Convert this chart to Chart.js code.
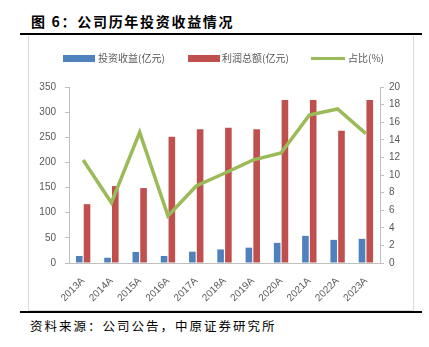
<!DOCTYPE html>
<html>
<head>
<meta charset="utf-8">
<script src="https://cdn.jsdelivr.net/npm/chart.js@4"></script>
<style>
  html, body { margin: 0; padding: 0; background: #fff; }
  body { width: 429px; height: 347px; position: relative; overflow: hidden; font-family: "Noto Sans CJK SC", sans-serif; }
  .title { position: absolute; left: 31px; top: 11px; font-size: 14px; font-weight: bold; letter-spacing: 1.7px; color: #000; line-height: 20px; white-space: nowrap; }
  .rule { position: absolute; left: 20px; width: 402px; height: 2px; background: #000; }
  .box { position: absolute; left: 28px; top: 36px; width: 384px; height: 274px; border: 1px solid #d9d9d9; border-top: none; }
  .legend { position: absolute; top: 50px; height: 16px; font-size: 10px; color: #595959; line-height: 16px; white-space: nowrap; }
  .footer { position: absolute; left: 30px; top: 317px; font-size: 12.5px; letter-spacing: 2px; color: #000; line-height: 18px; white-space: nowrap; }
  canvas { position: absolute; left: 28px; top: 36px; }
</style>
</head>
<body>
<div class="title">图 6：公司历年投资收益情况</div>
<div class="rule" style="top:33px"></div>
<div class="box"></div>
<canvas id="chart" width="385" height="275"></canvas>
<div id="legend"></div>
<div class="rule" style="top:311px"></div>
<div class="footer">资料来源：公司公告，中原证券研究所</div>

<script>
const years = ['2013A', '2014A', '2015A', '2016A', '2017A', '2018A', '2019A', '2020A', '2021A', '2022A', '2023A'];
const investIncome = [14, 10.5, 22, 14, 22.5, 27, 30.5, 40, 54, 46, 48];
const totalProfit = [117, 153, 149, 251, 266, 269, 266, 324, 324, 263, 324];
const ratio = [11.7, 6.85, 14.85, 5.35, 8.75, 10.2, 11.7, 12.5, 16.8, 17.5, 14.7];

const seriesNames = ['投资收益(亿元)', '利润总额(亿元)', '占比(%)'];
const seriesColors = ['#4F81BD', '#C0504D', '#9BBB59'];

// legend in html, positioned like the original
const legendEl = document.getElementById('legend');
const legendPos = [
  { sw: 63, text: 98, type: 'box' },
  { sw: 188, text: 222, type: 'box' },
  { sw: 311, text: 348, type: 'line' }
];
legendPos.forEach((p, i) => {
  const sw = document.createElement('div');
  sw.style.position = 'absolute';
  sw.style.left = p.sw + 'px';
  sw.style.background = seriesColors[i];
  if (p.type === 'box') {
    sw.style.top = '55px'; sw.style.width = '32px'; sw.style.height = '7px';
  } else {
    sw.style.top = '57px'; sw.style.width = '34px'; sw.style.height = '3px';
  }
  legendEl.appendChild(sw);
  const t = document.createElement('div');
  t.className = 'legend';
  t.style.left = p.text + 'px';
  t.textContent = seriesNames[i];
  legendEl.appendChild(t);
});

const tickFont = { family: "'Liberation Sans', Arial, sans-serif", size: 10 };
const axisColor = '#bfbfbf';

new Chart(document.getElementById('chart').getContext('2d'), {
  type: 'bar',
  data: {
    labels: years,
    datasets: [
      { type: 'line', label: seriesNames[2], data: ratio, yAxisID: 'y1', borderColor: seriesColors[2], backgroundColor: seriesColors[2], borderWidth: 3.5, pointRadius: 0, tension: 0, order: 0 },
      { label: seriesNames[0], data: investIncome, yAxisID: 'y', backgroundColor: seriesColors[0], categoryPercentage: 0.55, barPercentage: 0.85, order: 1 },
      { label: seriesNames[1], data: totalProfit, yAxisID: 'y', backgroundColor: seriesColors[1], categoryPercentage: 0.55, barPercentage: 0.85, order: 1 }
    ]
  },
  options: {
    responsive: false,
    animation: false,
    layout: { padding: { top: 51, left: 0, right: 0, bottom: 0 } },
    plugins: { legend: { display: false }, tooltip: { enabled: false } },
    scales: {
      x: {
        grid: { display: false },
        border: { display: true, color: axisColor },
        ticks: { color: '#595959', font: tickFont, minRotation: 45, maxRotation: 45, padding: 4 },
        afterFit: (s) => { s.height = 48; }
      },
      y: {
        position: 'left',
        min: 0, max: 350,
        ticks: { stepSize: 50, color: '#595959', font: tickFont, padding: 9 },
        grid: { drawOnChartArea: false, drawTicks: true, tickLength: 4, color: axisColor },
        border: { display: true, color: axisColor },
        afterFit: (s) => { s.width = 41; }
      },
      y1: {
        position: 'right',
        min: 0, max: 20,
        ticks: { stepSize: 2, color: '#595959', font: tickFont, padding: 5 },
        grid: { drawOnChartArea: false, drawTicks: true, tickLength: 4, color: axisColor },
        border: { display: true, color: axisColor },
        afterFit: (s) => { s.width = 33; }
      }
    }
  }
});
</script>
</body>
</html>
